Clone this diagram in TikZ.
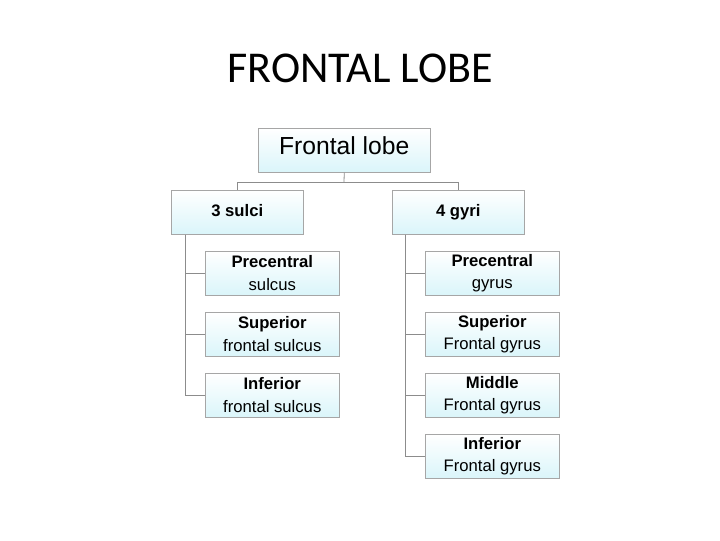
\documentclass[tikz,border=0pt]{standalone}
\usepackage{fontspec}
\setmainfont{Liberation Sans}
\newfontfamily\titlefont{Carlito}
\begin{document}
\begin{tikzpicture}[x=0.75pt,y=-0.75pt,
  box/.style={draw=black!35, top color=white, bottom color={rgb,255:red,218;green,245;blue,250}, anchor=north west, inner sep=0pt, align=center, text height=1.6ex, text depth=0.4ex},
  ln/.style={draw=black!45, line width=0.6pt}]
\useasboundingbox (0,0) rectangle (720,540);
\node[font=\titlefont\fontsize{33}{36}\selectfont] (title) at (360,68) {FRONTAL LOBE};
\node[box, minimum width=172*0.75pt, minimum height=44*0.75pt, font=\fontsize{18.5}{21}\selectfont] (root) at (258,128) {Frontal lobe};
\node[box, minimum width=132*0.75pt, minimum height=44*0.75pt, font=\bfseries\fontsize{12.5}{15}\selectfont] (s) at (171,190) {3 sulci};
\node[box, minimum width=132*0.75pt, minimum height=44*0.75pt, font=\bfseries\fontsize{12.5}{15}\selectfont] (g) at (392,190) {4 gyri};
\tikzset{child/.style={box, text height=, text depth=, minimum width=134*0.75pt, minimum height=44*0.75pt, font=\fontsize{12.5}{17}\selectfont}}
\node[child] (s1) at (205,251) {\textbf{Precentral}\\sulcus};
\node[child] (s2) at (205,312) {\textbf{Superior}\\frontal sulcus};
\node[child] (s3) at (205,373) {\textbf{Inferior}\\frontal sulcus};
\node[child] (g1) at (425,251) {\textbf{Precentral}\\gyrus};
\node[child] (g2) at (425,312) {\textbf{Superior}\\Frontal gyrus};
\node[child] (g3) at (425,373) {\textbf{Middle}\\Frontal gyrus};
\node[child] (g4) at (425,434) {\textbf{Inferior}\\Frontal gyrus};
\coordinate (j) at (344,182);
\draw[ln] (root.south) -- (j);
\draw[ln] (j) -| (s.north -| 237,0);
\draw[ln] (j) -| (g.north -| 458,0);
\foreach \c in {s1,s2,s3} \draw[ln] (s.south -| 185,0) |- (\c.west);
\foreach \c in {g1,g2,g3,g4} \draw[ln] (g.south -| 405,0) |- (\c.west);
\end{tikzpicture}
\end{document}
